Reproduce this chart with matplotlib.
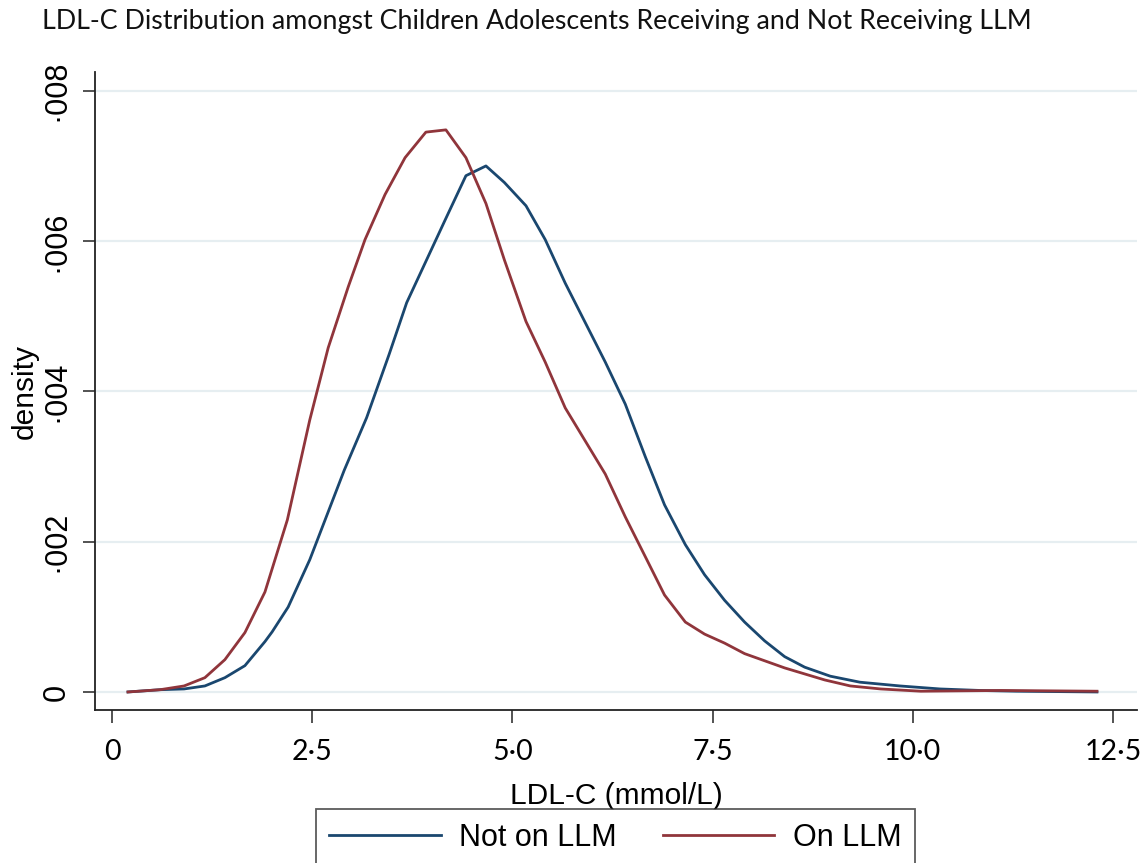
import matplotlib
matplotlib.use("Agg")
import matplotlib.pyplot as plt
from matplotlib.ticker import FixedLocator, FixedFormatter

# LDL-C (mmol/L) grid and kernel density estimates
ldl_not = [0.2, 0.6, 0.9, 1.16, 1.41, 1.66, 1.91, 2.0, 2.2, 2.47, 2.9, 3.18, 3.46,
           3.68, 4.16, 4.42, 4.67, 4.9, 5.17, 5.41, 5.66, 6.16, 6.41, 6.66, 6.9,
           7.16, 7.4, 7.65, 7.9, 8.15, 8.4, 8.65, 8.97, 9.34, 9.84, 10.34, 10.84,
           11.3, 12.3]
dens_not = [0.0, 0.00003, 0.00004, 0.00008, 0.00019, 0.00035, 0.00067, 0.0008,
            0.00113, 0.00176, 0.00295, 0.00365, 0.00449, 0.00518, 0.00628,
            0.00687, 0.00700, 0.00678, 0.00647, 0.00602, 0.00544, 0.00439,
            0.00383, 0.00313, 0.00249, 0.00196, 0.00156, 0.00122, 0.00093,
            0.00068, 0.00047, 0.00033, 0.00021, 0.00013, 0.00008, 0.00004,
            0.00002, 0.00001, 0.0]

ldl_on = [0.2, 0.6, 0.9, 1.16, 1.41, 1.66, 1.91, 2.19, 2.47, 2.7, 2.95, 3.16,
          3.41, 3.66, 3.92, 4.17, 4.42, 4.67, 4.9, 5.17, 5.41, 5.66, 6.16, 6.41,
          6.66, 6.9, 7.16, 7.4, 7.65, 7.9, 8.4, 8.9, 9.22, 9.6, 10.1, 11.1, 12.3]
dens_on = [0.0, 0.00003, 0.00008, 0.00019, 0.00043, 0.00079, 0.00133, 0.00229,
           0.00362, 0.00458, 0.00539, 0.00602, 0.00662, 0.00711, 0.00745,
           0.00748, 0.00711, 0.00650, 0.00575, 0.00493, 0.00439, 0.00378,
           0.00290, 0.00233, 0.00180, 0.00129, 0.00093, 0.00077, 0.00065,
           0.00051, 0.00032, 0.00016, 0.00008, 0.00004, 0.00001, 0.00002,
           0.00001]

x_ticks = [0, 2.5, 5.0, 7.5, 10.0, 12.5]
x_labels = ["0", "2·5", "5·0", "7·5", "10·0", "12·5"]
y_ticks = [0, 0.002, 0.004, 0.006, 0.008]
y_labels = ["0", "·002", "·004", "·006", "·008"]

BLUE = "#1a476f"
RED = "#90353b"
ARIAL = "Liberation Sans"

fig = plt.figure(figsize=(11.47, 8.63), dpi=100)
ax = fig.add_axes([95 / 1147, 1 - 710 / 863, (1137 - 95) / 1147, (710 - 72) / 863])

ax.plot(ldl_not, dens_not, color=BLUE, lw=2.0, label="Not on LLM", zorder=3)
ax.plot(ldl_on, dens_on, color=RED, lw=2.0, label="On LLM", zorder=3)

ax.set_xlim(-0.212, 12.80)
ax.set_ylim(-0.00024, 0.00825)

for y in y_ticks:
    ax.axhline(y, color="#e6eef1", lw=1.6, zorder=1)

ax.xaxis.set_major_locator(FixedLocator(x_ticks))
ax.xaxis.set_major_formatter(FixedFormatter(x_labels))
ax.yaxis.set_major_locator(FixedLocator(y_ticks))
ax.yaxis.set_major_formatter(FixedFormatter(y_labels))

ax.spines["top"].set_visible(False)
ax.spines["right"].set_visible(False)
for s in ("left", "bottom"):
    ax.spines[s].set_linewidth(1.3)
    ax.spines[s].set_color("#222222")

ax.tick_params(axis="both", direction="out", length=9, width=1.3,
               color="#444444", pad=12)
ax.tick_params(axis="x", labelsize=20.5)
ax.tick_params(axis="y", labelsize=22, pad=8)
for lab in ax.get_xticklabels():
    lab.set_family("Lato")
for lab in ax.get_yticklabels():
    lab.set_family(ARIAL)
    lab.set_rotation(90)
    lab.set_va("center")

ax.set_xlabel("LDL-C (mmol/L)", fontsize=21.5, family=ARIAL, labelpad=12)
ax.set_ylabel("density", fontsize=21.5, family=ARIAL, labelpad=2)

fig.text(42 / 1147, 1 - 22 / 863,
         "LDL-C Distribution amongst Children Adolescents Receiving and Not Receiving LLM",
         fontsize=19.3, family="Lato", va="center", ha="left", color="#111111")

leg = fig.legend(loc="upper center", bbox_to_anchor=(615.5 / 1147, 1 - 809 / 863),
                 ncol=2, frameon=True, fancybox=False,
                 prop={"family": ARIAL, "size": 22},
                 handlelength=3.64, handletextpad=0.62, columnspacing=1.5,
                 borderpad=0.45, borderaxespad=0)
leg.get_frame().set_edgecolor("#333333")
leg.get_frame().set_linewidth(1.3)

fig.savefig("out.png", dpi=100, facecolor="white")
